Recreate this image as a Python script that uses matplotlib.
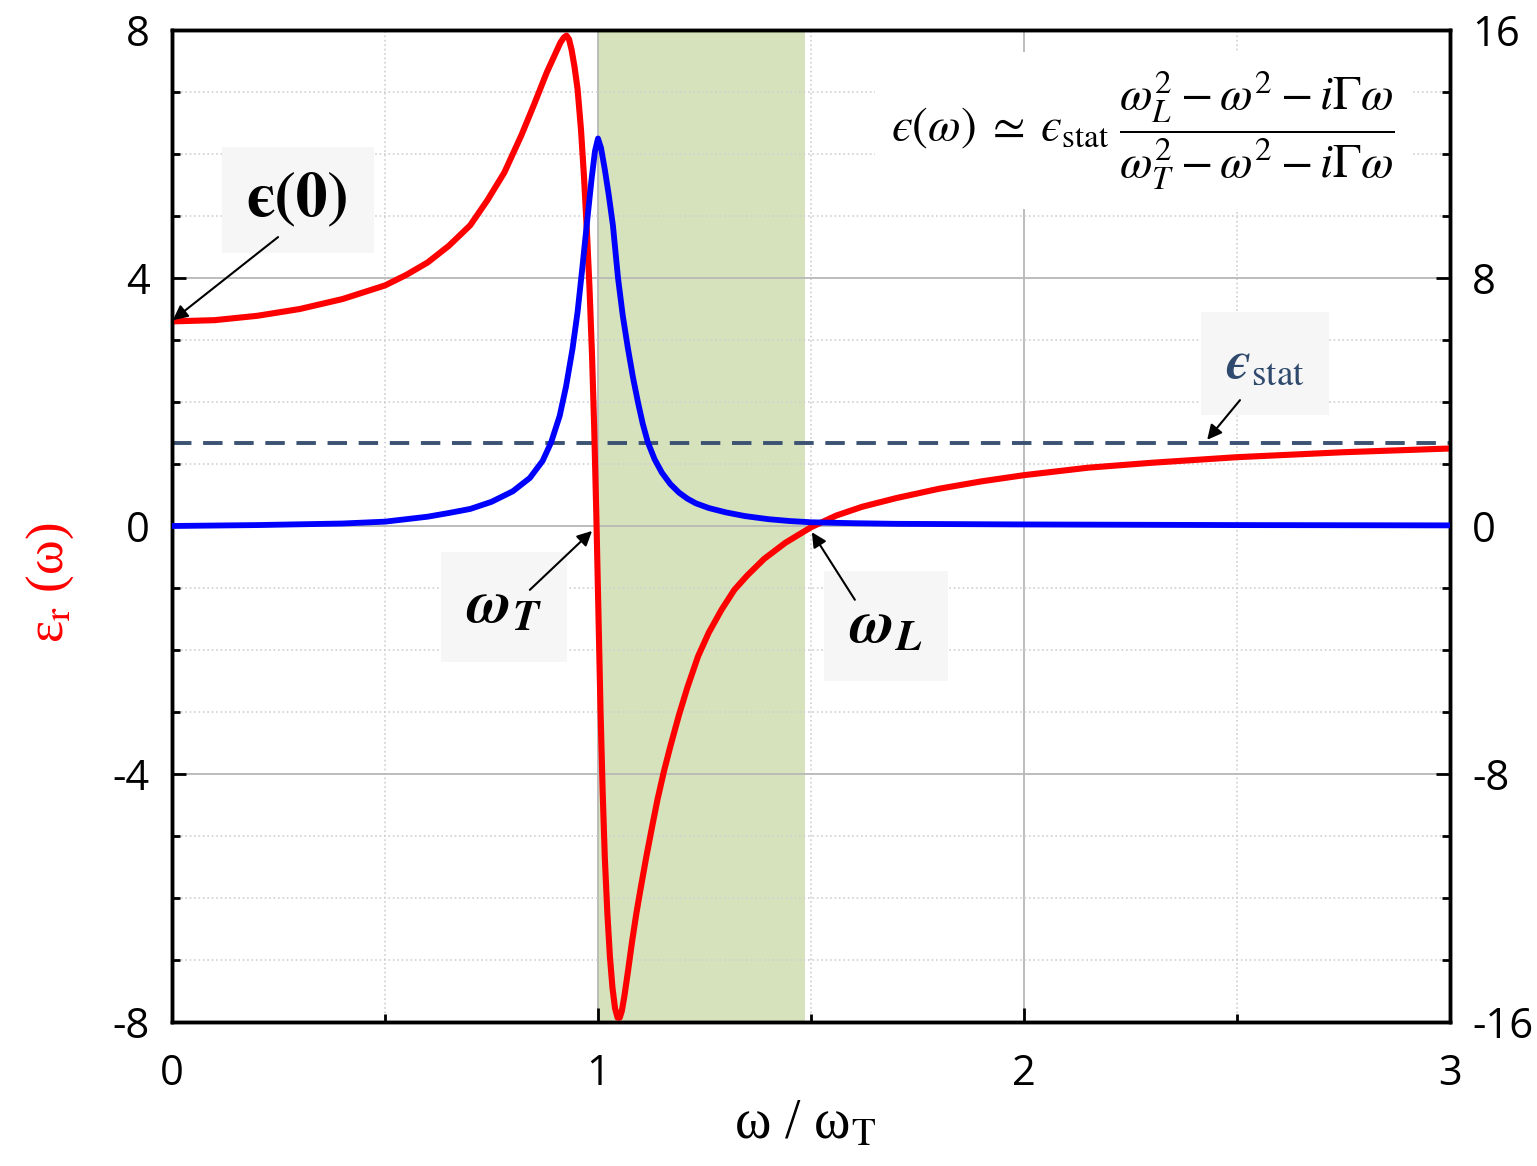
import matplotlib
matplotlib.use("Agg")
import matplotlib.pyplot as plt
from matplotlib.ticker import MultipleLocator

plt.rcParams['font.family'] = ['Open Sans', 'DejaVu Sans']
plt.rcParams['axes.unicode_minus'] = False
plt.rcParams['mathtext.fontset'] = 'custom'
plt.rcParams['mathtext.rm'] = 'STIXGeneral'
plt.rcParams['mathtext.it'] = 'STIXGeneral:italic'
plt.rcParams['mathtext.bf'] = 'STIXGeneral:italic:bold'

w_re = [0, 0.1, 0.2, 0.3, 0.4, 0.5, 0.55, 0.6, 0.65, 0.7, 0.74, 0.78, 0.82, 0.85, 0.88,
        0.9, 0.912, 0.92, 0.926, 0.932, 0.938, 0.945, 0.952, 0.96, 0.967, 0.974, 0.98,
        0.986, 0.991, 0.996, 1.001, 1.006, 1.011, 1.016, 1.022, 1.028, 1.034, 1.04,
        1.046, 1.051, 1.056, 1.062, 1.07, 1.08, 1.09, 1.1, 1.113, 1.127, 1.14, 1.155,
        1.17, 1.19, 1.21, 1.235, 1.26, 1.29, 1.32, 1.35, 1.39, 1.44, 1.5, 1.56, 1.62,
        1.7, 1.8, 1.9, 2.0, 2.15, 2.3, 2.5, 2.75, 3.0]
eps_re = [3.30, 3.32, 3.39, 3.50, 3.66, 3.88, 4.05, 4.25, 4.52, 4.85, 5.25, 5.70, 6.30, 6.80, 7.32,
          7.62, 7.80, 7.88, 7.91, 7.85, 7.68, 7.40, 7.05, 6.40, 5.65, 4.75, 3.85,
          2.75, 1.6, 0.2, -1.4, -3.0, -4.3, -5.35, -6.25, -6.95, -7.45, -7.78,
          -7.93, -7.93, -7.82, -7.58, -7.2, -6.7, -6.25, -5.85, -5.35, -4.85, -4.4, -3.95,
          -3.55, -3.05, -2.6, -2.1, -1.72, -1.35, -1.03, -0.8, -0.53, -0.27, -0.02, 0.17, 0.31,
          0.45, 0.6, 0.72, 0.82, 0.94, 1.02, 1.11, 1.19, 1.25]

# imaginary part (right axis)
w_im = [0, 0.2, 0.4, 0.5, 0.6, 0.65, 0.7, 0.75, 0.8, 0.84, 0.87, 0.89, 0.91, 0.925, 0.94,
        0.952, 0.963, 0.975, 0.985, 0.993, 1.0, 1.007, 1.016, 1.025, 1.035, 1.047, 1.058,
        1.07, 1.082, 1.094, 1.105, 1.117, 1.133, 1.15, 1.17, 1.19, 1.21, 1.23, 1.26, 1.3,
        1.345, 1.4, 1.45, 1.5, 1.6, 1.7, 2.0, 2.5, 3.0]
eps_im = [0, 0.03, 0.08, 0.14, 0.3, 0.42, 0.55, 0.78, 1.12, 1.55, 2.1, 2.7, 3.55, 4.5, 5.7,
          6.9, 8.3, 9.9, 11.2, 12.1, 12.5, 12.2, 11.5, 10.7, 9.7, 8.0, 6.8,
          5.75, 4.8, 3.98, 3.3, 2.7, 2.15, 1.72, 1.35, 1.08, 0.88, 0.73, 0.58, 0.44,
          0.32, 0.22, 0.16, 0.12, 0.09, 0.07, 0.05, 0.03, 0.02]

eps_stat = 1.34
band = (1.0, 1.485)   # reststrahlen band

fig = plt.figure(figsize=(15.37, 11.66), dpi=100)
ax = fig.add_axes([172/1537, 1-1022/1166, (1450-172)/1537, (1022-30)/1166])
ax2 = ax.twinx()

ax.axvspan(band[0], band[1], color='#d6e2bc', zorder=0.5, lw=0)
ax.axhline(eps_stat, color='#3b5273', lw=2.8, ls=(0, (5, 3)), zorder=2)
ax.plot(w_re, eps_re, color='#ff0000', lw=4.4, solid_joinstyle='round', zorder=3)
ax2.plot(w_im, eps_im, color='#0000ff', lw=4.2, solid_joinstyle='round', zorder=3)

ax.set_xlim(0, 3)
ax.set_ylim(-8, 8)
ax2.set_ylim(-16, 16)
ax.set_xticks([0, 1, 2, 3])
ax.set_yticks([-8, -4, 0, 4, 8])
ax2.set_yticks([-16, -8, 0, 8, 16])
ax.xaxis.set_minor_locator(MultipleLocator(0.5))
ax.yaxis.set_minor_locator(MultipleLocator(1))
ax2.yaxis.set_minor_locator(MultipleLocator(2))

ax.set_axisbelow(True)
ax.grid(which='major', color='#b8b8b8', lw=1.3)
ax.grid(which='minor', color='#d0d0d0', lw=1.2, ls=':')

for a in (ax, ax2):
    a.tick_params(which='major', direction='in', length=10, width=2, labelsize=30, pad=16)
    a.tick_params(which='minor', direction='in', length=6, width=2)
    for s in a.spines.values():
        s.set_linewidth(2.5)
ax.tick_params(axis='x', pad=22)

fig.text(805/1537, 1-1125/1166, r'ω / ω$_{\mathrm{T}}$', family='Liberation Serif',
         fontsize=40, ha='center', va='center')
fig.text(50/1537, 1-583/1166, r'ε$_{\mathrm{r}}$ (ω)', family='Liberation Serif',
         fontsize=38, color='#ff0000', rotation=90, ha='center', va='center')

# formula
ax2.text(2.28, 12.77,
         r'$ϵ(\omega)\;\simeq\;ϵ_{\mathrm{stat}}\;\dfrac{\omega_L^2-\omega^2-i\Gamma\omega}{\omega_T^2-\omega^2-i\Gamma\omega}$',
         fontsize=34, ha='center', va='center',
         bbox=dict(facecolor='white', edgecolor='none', pad=12), zorder=5)

box = dict(facecolor='#f6f6f6', edgecolor='none', pad=18)
arrow = dict(arrowstyle='-|>', color='black', lw=1.5, mutation_scale=22, shrinkA=0, shrinkB=0)

# label boxes (on left-axis data coords)
ax2.text(0.296, 5.26, 'ϵ(0)', transform=ax.transData, family='STIXGeneral',
         fontweight='bold', fontsize=46, ha='center', va='center', bbox=box, zorder=6)
ax2.text(0.78, -1.3, r'$\mathbf{\omega_T}$', transform=ax.transData,
         fontsize=44, ha='center', va='center', bbox=box, zorder=6)
ax2.text(1.676, -1.62, r'$\mathbf{\omega_L}$', transform=ax.transData,
         fontsize=44, ha='center', va='center', bbox=box, zorder=6)
ax2.text(2.566, 2.62, r'$\mathbf{ϵ}_{\mathrm{stat}}$', transform=ax.transData,
         fontsize=38, color='#2f4a6d', ha='center', va='center', bbox=box, zorder=6)

# arrows: (tail, head)
arrows = [((0.249, 4.66), (0.002, 3.32)),
          ((0.84, -1.03), (0.986, -0.08)),
          ((1.603, -1.19), (1.502, -0.1)),
          ((2.507, 2.03), (2.43, 1.39))]
for tail, head in arrows:
    ax2.annotate('', xy=head, xycoords=ax.transData, xytext=tail, textcoords=ax.transData,
                 arrowprops=arrow, zorder=7)

fig.savefig('out.png', dpi=100)
